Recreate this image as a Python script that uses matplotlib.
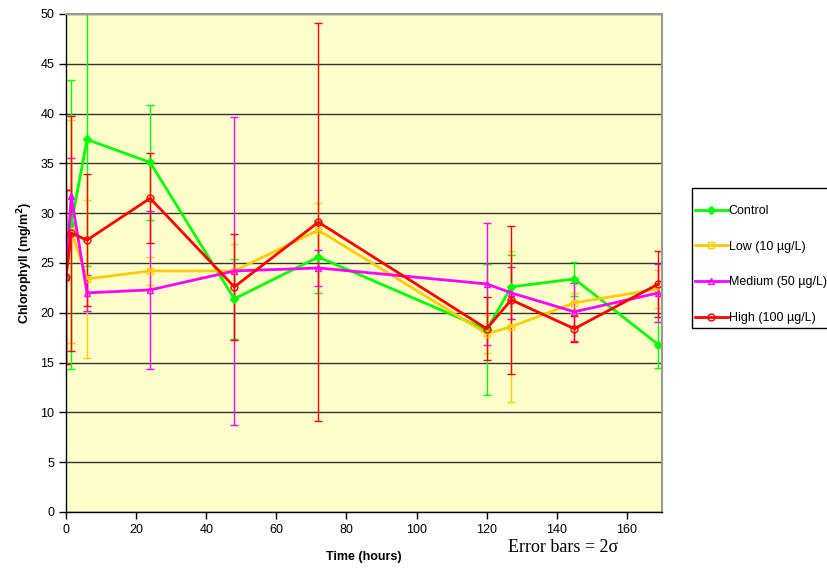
import matplotlib
matplotlib.use('Agg')

import matplotlib.pyplot as plt
import matplotlib.patches as patches
import numpy as np

plt.rcParams['font.family'] = ['Liberation Sans', 'DejaVu Sans']

# sampling times (hours)
time_h = [0, 1.5, 6, 24, 48, 72, 120, 127, 145, 169]

control = [23.6, 28.9, 37.4, 35.1, 21.4, 25.6, 18.3, 22.6, 23.4, 16.8]
control_err = [8.7, 14.5, 12.7, 5.8, 4.0, 3.6, 6.6, 3.2, 1.7, 2.3]

low = [23.6, 28.2, 23.4, 24.2, 24.2, 28.3, 17.9, 18.6, 21.0, 22.4]
low_err = [8.7, 11.2, 7.9, 1.4, 2.7, 2.7, 1.9, 7.6, 1.0, 1.9]

medium = [23.6, 31.7, 22.0, 22.3, 24.2, 24.5, 22.9, 22.0, 20.1, 22.0]
medium_err = [8.7, 3.8, 1.8, 7.9, 15.5, 1.85, 6.1, 2.6, 2.9, 2.9]

high = [23.6, 28.0, 27.3, 31.5, 22.6, 29.1, 18.4, 21.3, 18.4, 22.9]
high_err = [8.7, 11.8, 6.6, 4.5, 5.35, 20.0, 3.15, 7.4, 1.3, 3.3]

series_labels = ['Control', 'Low (10 \u00b5g/L)', 'Medium (50 \u00b5g/L)', 'High (100 \u00b5g/L)']

fig = plt.figure(figsize=(8.27, 5.69), dpi=100)
ax = fig.add_axes([66 / 827, 1 - 512 / 569, 596 / 827, 498 / 569])
ax.set_facecolor('#FFFFCC')

styles = [
    (control, control_err, '#00FF00', 'D', '#00FF00', 4),
    (low, low_err, '#FFCC00', 's', 'none', 5),
    (medium, medium_err, '#FF00FF', '^', 'none', 5),
    (high, high_err, '#FF0000', 'o', 'none', 5),
]

handles = []
for (vals, errs, col, mk, face, ms), lab in zip(styles, series_labels):
    eb = ax.errorbar(time_h, vals, yerr=errs, color=col, lw=2, marker=mk,
                     markersize=ms, markerfacecolor=face, markeredgecolor=col,
                     markeredgewidth=1, ecolor=col, elinewidth=1, capsize=3,
                     capthick=1, label=lab)
    handles.append(eb[0])

ax.set_xlim(0, 170)
ax.set_ylim(0, 50)
ax.set_xticks(np.arange(0, 170, 20))
ax.set_yticks(np.arange(0, 51, 5))
ax.yaxis.grid(True, color='#333333', lw=1)
ax.set_axisbelow(True)

ax.tick_params(direction='out', length=5, width=1, labelsize=9, color='black')
for side in ['top', 'right']:
    ax.spines[side].set_color('#999999')
    ax.spines[side].set_linewidth(1.5)
for side in ['left', 'bottom']:
    ax.spines[side].set_color('black')
    ax.spines[side].set_linewidth(1)

ax.set_xlabel('Time (hours)', fontsize=9, fontweight='bold', labelpad=11)
ax.set_ylabel('Chlorophyll (mg/m$^\\mathbf{2}$)', fontsize=9, fontweight='bold', labelpad=4)

fig.text(508 / 827, 1 - 548 / 569, 'Error bars = 2\u03c3', fontsize=13,
         family=['Liberation Serif', 'DejaVu Serif'], va='center')

# legend box runs off the right edge of the figure
frame = patches.Rectangle((692 / 827, 1 - 328 / 569), 140 / 827, 140 / 569,
                          transform=fig.transFigure, facecolor='white',
                          edgecolor='black', lw=1)
fig.add_artist(frame)

leg = fig.legend(handles=handles, labels=series_labels, loc='upper left',
                 bbox_to_anchor=(695 / 827, 1 - 205 / 569), fontsize=9,
                 frameon=False, labelspacing=1.9, handlelength=2.6,
                 handletextpad=0.1, borderpad=0, borderaxespad=0)

fig.savefig('out.png', dpi=100)
